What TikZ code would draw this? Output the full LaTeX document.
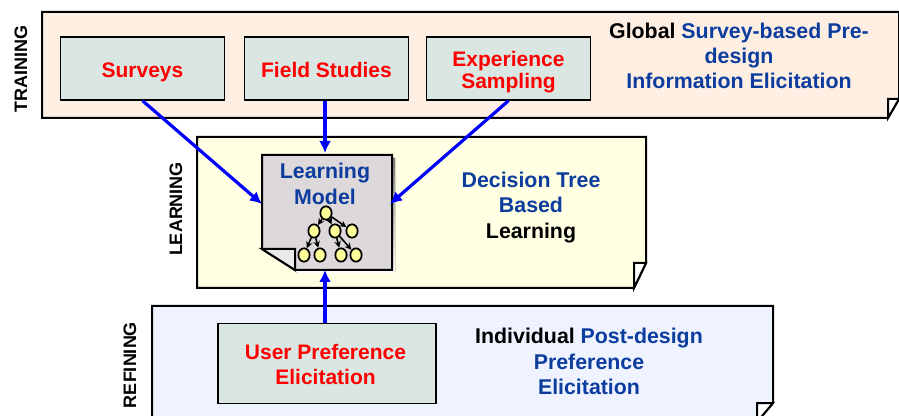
\documentclass[tikz,border=0pt]{standalone}
\usepackage{fontspec}
\setmainfont{Liberation Sans}
\usepackage{xcolor}
\usetikzlibrary{arrows.meta,shapes.geometric}
\definecolor{trainbg}{HTML}{FFEFE3}
\definecolor{learnbg}{HTML}{FFFFE3}
\definecolor{refinebg}{HTML}{EEF3FF}
\definecolor{boxbg}{HTML}{D9E6E2}
\definecolor{modelbg}{HTML}{DDD9DA}
\definecolor{dotbg}{HTML}{FFFF99}
\definecolor{navy}{HTML}{0B3C9E}
\definecolor{shade}{HTML}{707070}
\tikzset{
  panel/.style={draw=black, line width=1.5pt, line join=miter},
  fold/.style={draw=black, fill=white, line width=1.5pt},
  inbox/.style={draw=black, fill=boxbg, line width=1.3pt, text=red, align=center, font=\fontsize{15.75}{19}\selectfont\bfseries},
  lab/.style={text=navy, align=center, font=\fontsize{16}{19}\selectfont\bfseries},
  side/.style={rotate=90, text=black, font=\fontsize{13.5}{16}\selectfont\bfseries},
  link/.style={draw=blue, line width=2.4pt, -{Latex[length=9pt,width=9pt]}},
  dot/.style={ellipse, draw=black, fill=dotbg, line width=1.3pt, minimum width=8.5pt, minimum height=10pt, inner sep=0pt},
  twig/.style={draw=black, line width=1.2pt, -{Stealth[length=5pt,width=5pt]}}
}
\begin{document}
\begin{tikzpicture}[x=0.75pt,y=-0.75pt]
  \useasboundingbox (0,0) rectangle (899,416);

  % training
  \draw[panel,fill=trainbg] (42,12) -- (899,12) -- (899,99) -- (888,118) -- (42,118) -- cycle;
  \draw[fold] (888,118) -- (888,99) -- (899,99) -- cycle;
  \node[side] (training) at (21,69) {TRAINING};
  \node[inbox, minimum width=123pt, minimum height=47pt, text height=14.3pt, text depth=1.5pt] (surveys) at (142.5,68.5) {Surveys};
  \node[inbox, minimum width=123pt, minimum height=47pt, text height=14.3pt, text depth=1.5pt] (field) at (326.5,68.5) {Field Studies};
  \node[draw=black, fill=boxbg, line width=1.3pt, minimum width=123pt, minimum height=47pt] (sampling) at (508.5,68.5) {};
  \node[inbox, draw=none, fill=none, inner sep=0pt] (samplingtext) at (508.5,72) {Experience\\[-2.5pt]Sampling};
  \node[lab] (global) at (739,56) {{\color{black}Global} Survey-based Pre-\\design\\Information Elicitation};

  % learning
  \draw[panel,fill=learnbg] (197,137) -- (646,137) -- (646,263) -- (634,288) -- (197,288) -- cycle;
  \draw[fold] (634,288) -- (634,263) -- (646,263) -- cycle;
  \node[side] (learning) at (176,209) {LEARNING};
  \node[lab] (tree) at (531,207.5) {Decision Tree\\Based\\{\color{black}Learning}};

  % refining
  \draw[panel,fill=refinebg] (152,306) -- (773,306) -- (773,403) -- (757,422) -- (152,422) -- cycle;
  \draw[fold] (757,422) -- (757,403) -- (773,403) -- cycle;
  \node[side] (refining) at (130,365) {REFINING};
  \node[draw=black, fill=boxbg, line width=1.3pt, minimum width=164pt, minimum height=60pt] (user) at (327,363.5) {};
  \node[inbox, draw=none, fill=none, inner sep=0pt] (usertext) at (325.5,364.5) {User Preference\\Elicitation};
  \node[lab] (post) at (589,361.5) {{\color{black}Individual} Post-design\\Preference\\Elicitation};

  % model sheet
  \fill[shade] (265,158) -- (395,158) -- (395,273) -- (298,273) -- (265,252) -- cycle;
  \draw[panel,fill=modelbg] (262,155) -- (392,155) -- (392,270) -- (295,270) -- (262,249) -- cycle;
  \draw[fold,fill=modelbg!60!white] (262,249) -- (295,249) -- (295,270) -- cycle;
  \node[lab] (model) at (325,184) {Learning\\Model};

  % tree inside the sheet
  \node[dot] (n0) at (326,213) {};
  \node[dot] (n1) at (314,231) {};
  \node[dot] (n2) at (335,231) {};
  \node[dot] (n3) at (352,231) {};
  \node[dot] (n4) at (304,255) {};
  \node[dot] (n5) at (320,255) {};
  \node[dot] (n6) at (341,255) {};
  \node[dot] (n7) at (356,255) {};
  \draw[twig] (n0) -- (n1);
  \draw[twig] (n0) -- (n2);
  \draw[twig] (n0) -- (n3);
  \draw[twig] (n1) -- (n4);
  \draw[twig] (n1) -- (n5);
  \draw[twig] (n2) -- (n6);
  \draw[twig] (n2) -- (n7);

  % links into the sheet
  \coordinate (inleft) at (262,204);
  \coordinate (inright) at (390,204);
  \coordinate (intop) at (325,153);
  \coordinate (inbottom) at (325,270);
  \draw[link] (surveys.south) -- (inleft);
  \draw[link] (field.south -| intop) -- (intop);
  \draw[link] (sampling.south) -- (inright);
  \draw[link] (user.north -| inbottom) -- (inbottom);
\end{tikzpicture}
\end{document}
